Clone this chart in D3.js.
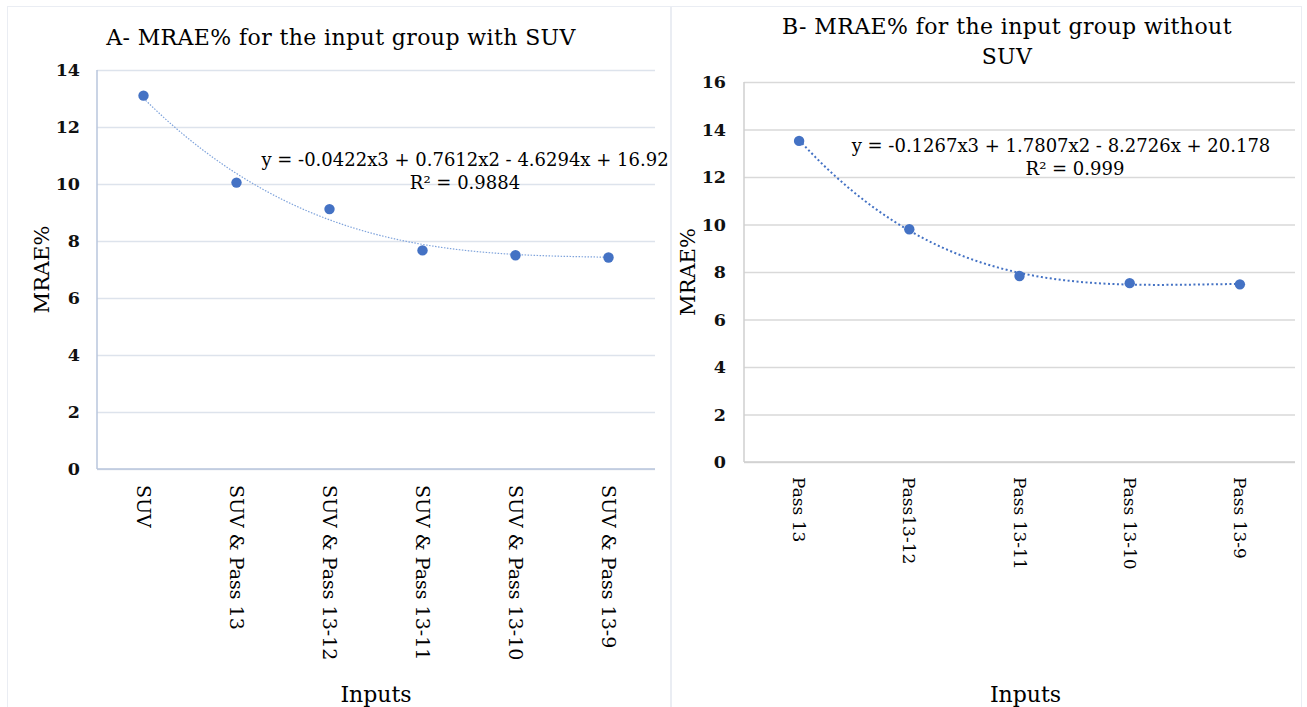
<!DOCTYPE html>
<html>
<head>
<meta charset="utf-8">
<script src="https://cdn.jsdelivr.net/npm/d3@7"></script>
<style>
  html, body { margin: 0; padding: 0; background: #fff; }
  svg { display: block; font-family: "DejaVu Serif", "Liberation Serif", serif; }
</style>
</head>
<body>
<svg id="chart" width="1307" height="707"></svg>
<script>
// ---------- data ----------
const categoriesA = ["SUV", "SUV & Pass 13", "SUV & Pass 13-12", "SUV & Pass 13-11", "SUV & Pass 13-10", "SUV & Pass 13-9"];
const valuesA = [13.1, 10.05, 9.12, 7.67, 7.5, 7.42];
const coeffsA = [-0.0422, 0.7612, -4.6294, 16.92]; // x^3, x^2, x, c
const equationA = "y = -0.0422x3 + 0.7612x2 - 4.6294x + 16.92";
const r2A = "R² = 0.9884";
const titleA = ["A- MRAE% for the input group with SUV"];
const yTicksA = [0, 2, 4, 6, 8, 10, 12, 14];

const categoriesB = ["Pass 13", "Pass13-12", "Pass 13-11", "Pass 13-10", "Pass 13-9"];
const valuesB = [13.52, 9.8, 7.83, 7.53, 7.48];
const coeffsB = [-0.1267, 1.7807, -8.2726, 20.178];
const equationB = "y = -0.1267x3 + 1.7807x2 - 8.2726x + 20.178";
const r2B = "R² = 0.999";
const titleB = ["B- MRAE% for the input group without", "SUV"];
const yTicksB = [0, 2, 4, 6, 8, 10, 12, 14, 16];

const xTitle = "Inputs";
const yTitle = "MRAE%";

// ---------- drawing ----------
const svg = d3.select("#chart");

// panel frames (dotted)
svg.append("rect").attr("x", 7.5).attr("y", 6.5).attr("width", 663).attr("height", 710)
  .attr("fill", "none").attr("stroke", "#d5dbe6").attr("stroke-dasharray", "1,1");
svg.append("rect").attr("x", 671.5).attr("y", 6.5).attr("width", 630).attr("height", 710)
  .attr("fill", "none").attr("stroke", "#d5dbe6").attr("stroke-dasharray", "1,1");

function drawPanel(cfg) {
  const g = svg.append("g");
  const x = d3.scaleBand().domain(cfg.categories).range([cfg.left, cfg.right]);
  const y = d3.scaleLinear().domain([0, cfg.yMax]).range([cfg.bottom, cfg.top]);

  // gridlines
  g.append("g")
    .attr("transform", `translate(${cfg.left},0)`)
    .call(d3.axisLeft(y).tickValues(cfg.yTicks).tickSize(-(cfg.right - cfg.left)).tickFormat(""))
    .call(s => s.select(".domain").remove())
    .call(s => s.selectAll(".tick line").attr("stroke", cfg.gridColor).attr("stroke-width", 1.3));

  // y tick labels
  g.append("g")
    .attr("transform", `translate(${cfg.left},0)`)
    .call(d3.axisLeft(y).tickValues(cfg.yTicks).tickSize(0).tickPadding(cfg.tickPad).tickFormat(d3.format("d")))
    .call(s => s.select(".domain").remove())
    .call(s => s.selectAll("text").attr("font-family", "DejaVu Serif").attr("font-size", 17.5)
      .attr("font-weight", "bold").attr("fill", "#111"));

  // axes lines
  g.append("line").attr("x1", cfg.left).attr("x2", cfg.left).attr("y1", cfg.top).attr("y2", cfg.bottom)
    .attr("stroke", cfg.axisColor).attr("stroke-width", 1.5);
  g.append("line").attr("x1", cfg.left).attr("x2", cfg.right).attr("y1", cfg.bottom).attr("y2", cfg.bottom)
    .attr("stroke", cfg.axisColor).attr("stroke-width", 1.5);

  // x labels (rotated 90deg clockwise)
  g.selectAll(".xlab").data(cfg.categories).enter().append("text")
    .attr("class", "xlab")
    .attr("transform", d => `translate(${x(d) + x.bandwidth() / 2},${cfg.bottom + cfg.xLabPad}) rotate(90)`)
    .attr("dy", "0.35em")
    .attr("text-anchor", "start")
    .attr("font-size", cfg.xLabSize)
    .attr("fill", "#000")
    .text(d => d);

  // trendline
  const poly = (t) => cfg.coeffs[0] * t * t * t + cfg.coeffs[1] * t * t + cfg.coeffs[2] * t + cfg.coeffs[3];
  const n = cfg.categories.length;
  const xPos = t => x(cfg.categories[0]) + x.bandwidth() / 2 + (t - 1) * x.step();
  const pts = d3.range(1, n + 0.001, 0.05).map(t => [xPos(t), y(poly(t))]);
  g.append("path").attr("d", d3.line().curve(d3.curveLinear)(pts))
    .attr("fill", "none").attr("stroke", cfg.trendColor).attr("stroke-width", cfg.trendWidth)
    .attr("stroke-dasharray", cfg.trendDash);

  // markers
  g.selectAll(".pt").data(cfg.values).enter().append("circle")
    .attr("cx", (d, i) => x(cfg.categories[i]) + x.bandwidth() / 2)
    .attr("cy", d => y(d))
    .attr("r", 5.2)
    .attr("fill", "#4472c4");

  // equation
  g.append("text").attr("x", cfg.eqX).attr("y", cfg.eqY).attr("text-anchor", "middle")
    .attr("font-size", 18).attr("fill", "#000").text(cfg.equation);
  g.append("text").attr("x", cfg.eqX + cfg.r2Shift).attr("y", cfg.eqY + 23).attr("text-anchor", "middle")
    .attr("font-size", 18).attr("fill", "#000").text(cfg.r2);

  // title
  cfg.title.forEach((t, i) => {
    g.append("text").attr("x", cfg.titleX).attr("y", cfg.titleY + i * 30).attr("text-anchor", "middle")
      .attr("font-size", 22).attr("letter-spacing", 0.4).attr("fill", "#000").text(t);
  });

  // axis titles
  g.append("text").attr("x", (cfg.left + cfg.right) / 2 + cfg.xTitleShift).attr("y", 702).attr("text-anchor", "middle")
    .attr("font-size", 22).attr("fill", "#000").text(xTitle);
  g.append("text").attr("transform", `translate(${cfg.yTitleX},${(cfg.top + cfg.bottom) / 2}) rotate(-90)`)
    .attr("text-anchor", "middle").attr("dy", "0.35em")
    .attr("font-size", 21).attr("fill", "#000").text(yTitle);
}

drawPanel({
  categories: categoriesA, values: valuesA, coeffs: coeffsA, equation: equationA, r2: r2A,
  title: titleA, yTicks: yTicksA, yMax: 14,
  left: 97, right: 655, top: 70, bottom: 469,
  gridColor: "#dde3ec", axisColor: "#b8c6dc", tickPad: 17, xLabPad: 16, xLabSize: 19,
  trendColor: "#7fa3db", trendWidth: 1.2, trendDash: "1.5,1.5",
  eqX: 465, eqY: 166, r2Shift: 0, titleX: 341, titleY: 45, xTitleShift: 0, yTitleX: 42
});

drawPanel({
  categories: categoriesB, values: valuesB, coeffs: coeffsB, equation: equationB, r2: r2B,
  title: titleB, yTicks: yTicksB, yMax: 16,
  left: 744, right: 1295, top: 82, bottom: 462,
  gridColor: "#d9d9d9", axisColor: "#cfcfcf", tickPad: 18, xLabPad: 15, xLabSize: 17,
  trendColor: "#4472c4", trendWidth: 2, trendDash: "2,2.5",
  eqX: 1061, eqY: 152, r2Shift: 14, titleX: 1007, titleY: 34, xTitleShift: 6, yTitleX: 688
});
</script>
</body>
</html>
